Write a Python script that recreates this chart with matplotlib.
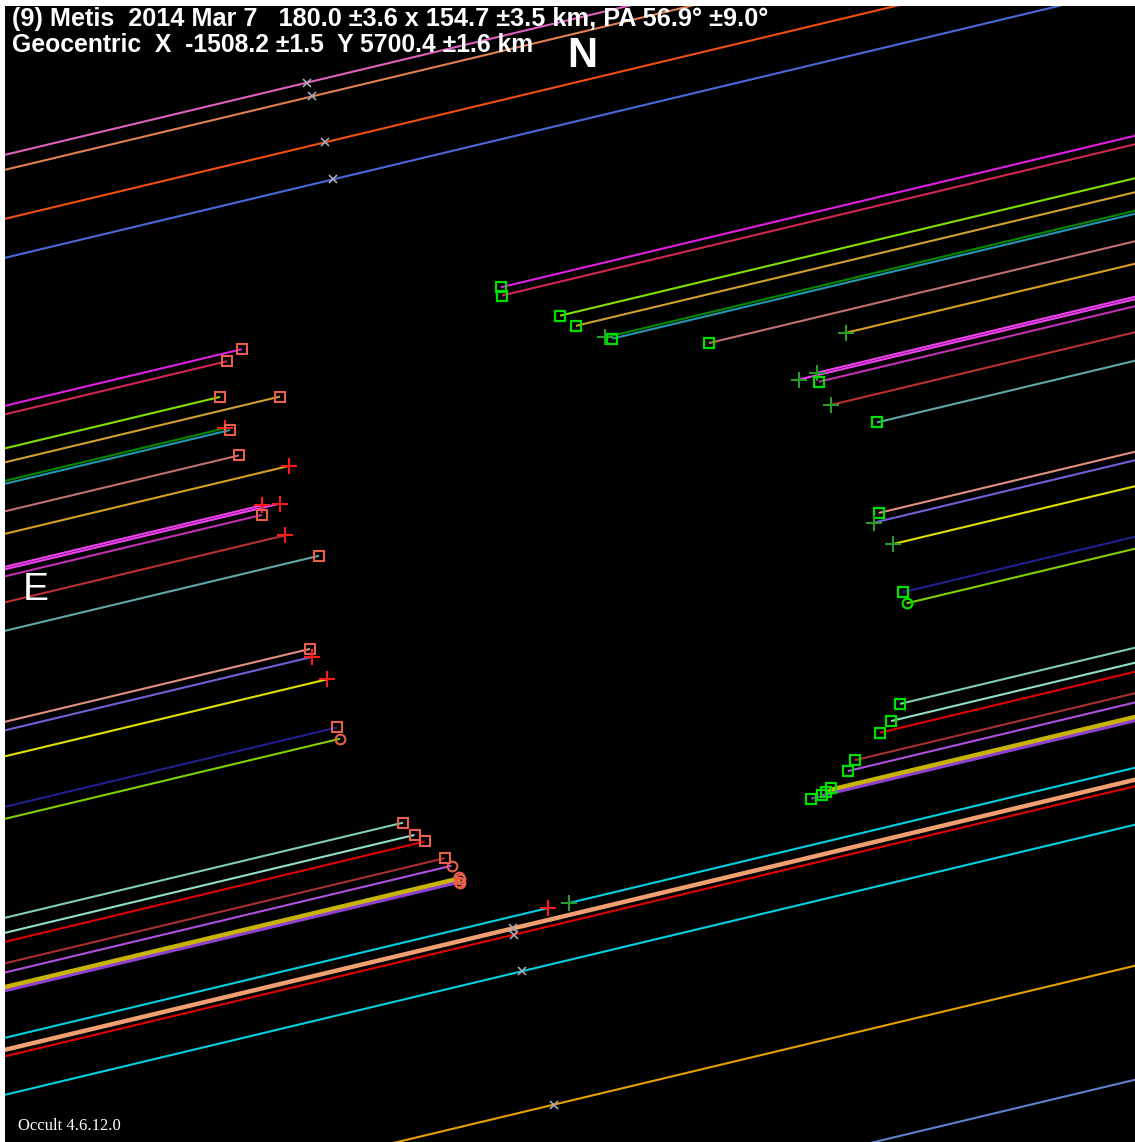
import matplotlib
matplotlib.use("Agg")
import matplotlib.pyplot as plt
import numpy as np

W, H = 1135, 1142
SLOPE = 0.239  # drop of each chord in plot units per unit of x

# Chords that cross the body: line offset, disappearance x, reappearance x
chord_offset = [407, 415.5, 449.5, 463.5, 482, 485, 512.5, 535, 568, 570.5,
                577.5, 603.5, 632, 723, 731.5, 757.5, 808, 820, 919, 934,
                943, 964.5, 973.7, 987, 989, 991.5, 992.5, 1039]
disappear_x = [242, 227, 220, 280, 225, 230, 239, 289, 262, 280,
               262, 285, 319, 310, 311.7, 326.7, 337, 340, 403, 414.5,
               424.8, 444.7, 451.6, 458.5, 460, 458.5, 460, 548]
reappear_x = [500.7, 502, 560, 576, 605, 612, 709, 845.7, 816.7, 799,
              819, 830.7, 877, 878.7, 874, 893, 902.7, 906.7, 900, 891,
              880.3, 854.7, 847.7, 831, 826, 822.3, 811.3, 569]
disappear_kind = ["s", "s", "s", "s", "+", "s", "s", "+", "+", "+",
                  "s", "+", "s", "s", "+", "+", "s", "o", "s", "s",
                  "s", "s", "o", "o", "o", "o", "o", "+"]
reappear_kind = ["s", "s", "s", "s", "+", "s", "s", "+", "+", "+",
                 "s", "+", "s", "s", "+", "+", "s", "o", "s", "s",
                 "s", "s", "s", "s", "s", "s", "s", "+"]
chord_colors = ["#e020e0", "#d02850", "#80e000", "#d0a030", "#008a00", "#2098b0",
                "#c07070", "#d8a020", "#f040f0", "#f040f0", "#c030b0", "#b83030",
                "#60a8a8", "#e09080", "#7060d8", "#e0e000", "#202090", "#80d000",
                "#80d0b0", "#90e0c8", "#e00000", "#a83030", "#b050e0", "#c8b400",
                "#c8b400", "#9040d0", "#9040d0", "#00d0e0"]
chord_thick = [24]

# Chords that miss the body: line offset and the x of the closest-approach mark
miss_offset = [156, 171, 220, 259, 1051, 1057.5, 1096, 1237, 1351]
miss_mark_x = [307, 312, 325, 333, 513, 514, 522, 554, np.nan]
miss_colors = ["#e060c0", "#e08050", "#f05010", "#4a68d8", "#f0a070",
               "#e00000", "#00d0e0", "#e8a000", "#6080d0"]
miss_thick = [1051]

title_line1 = "(9) Metis  2014 Mar 7   180.0 \u00b13.6 x 154.7 \u00b13.5 km, PA 56.9\u00b0 \u00b19.0\u00b0"
title_line2 = "Geocentric  X  -1508.2 \u00b11.5  Y 5700.4 \u00b11.6 km"
version_text = "Occult 4.6.12.0"


def chord_y(offset, x):
    return offset - SLOPE * np.asarray(x, dtype=float)


fig = plt.figure(figsize=(W / 100, H / 100), dpi=100)
fig.patch.set_facecolor("white")
ax = fig.add_axes([5 / W, 0, (W - 5) / W, (H - 6) / H])
ax.set_facecolor("black")
ax.set_xlim(5, W)
ax.set_ylim(H, 6)
ax.set_xticks([])
ax.set_yticks([])
for sp in ax.spines.values():
    sp.set_visible(False)

# Chords missing the body
for off, mx, col in zip(miss_offset, miss_mark_x, miss_colors):
    lw = 3.2 if off in miss_thick else 1.5
    xs = np.array([0, W + 10])
    ax.plot(xs, chord_y(off, xs), color=col, lw=lw, solid_capstyle="butt", zorder=2)
    if np.isfinite(mx):
        ax.plot([mx], [chord_y(off, mx)], marker="x", ms=6, mew=1.2,
                color="#a8a8b8", zorder=5)

# Chords with a disappearance and a reappearance
for i, (off, dx, rx, col) in enumerate(zip(chord_offset, disappear_x, reappear_x, chord_colors)):
    lw = 3.2 if i in chord_thick else 1.5
    left = np.array([0, dx])
    right = np.array([rx, W + 10])
    ax.plot(left, chord_y(off, left), color=col, lw=lw, solid_capstyle="butt", zorder=2)
    ax.plot(right, chord_y(off, right), color=col, lw=lw, solid_capstyle="butt", zorder=2)

d_style = {"s": dict(marker="s", ms=7, mfc="none", mec="#e8604a", mew=1.5),
           "o": dict(marker="o", ms=7, mfc="none", mec="#e8604a", mew=1.5),
           "+": dict(marker="+", ms=12, mec="#ff1a1a", mew=1.5)}
r_style = {"s": dict(marker="s", ms=7, mfc="none", mec="#00e000", mew=1.6),
           "o": dict(marker="o", ms=7, mfc="none", mec="#00e000", mew=1.6),
           "+": dict(marker="+", ms=12, mec="#2a9a2a", mew=1.5)}

for off, dx, rx, dk, rk in zip(chord_offset, disappear_x, reappear_x,
                               disappear_kind, reappear_kind):
    ax.plot([dx], [chord_y(off, dx)], ls="none", zorder=6, **d_style[dk])
    ax.plot([rx], [chord_y(off, rx)], ls="none", zorder=6, **r_style[rk])

# Labels
ax.text(12, 26, title_line1, color="white", fontsize=18.2, fontweight="bold",
        family="Liberation Sans", va="baseline", ha="left", zorder=10)
ax.text(12, 52, title_line2, color="white", fontsize=17.8, fontweight="bold",
        family="Liberation Sans", va="baseline", ha="left", zorder=10)
ax.text(582, 67, "N", color="white", fontsize=30, fontweight="bold",
        family="Liberation Sans", va="baseline", ha="center", zorder=10)
ax.text(36, 600, "E", color="white", fontsize=28,
        family="Liberation Sans", va="baseline", ha="center", zorder=10)
ax.text(18, 1130, version_text, color="white", fontsize=12,
        family="Liberation Serif", va="baseline", ha="left", zorder=10)

fig.savefig("out.png", dpi=100, facecolor=fig.get_facecolor())
